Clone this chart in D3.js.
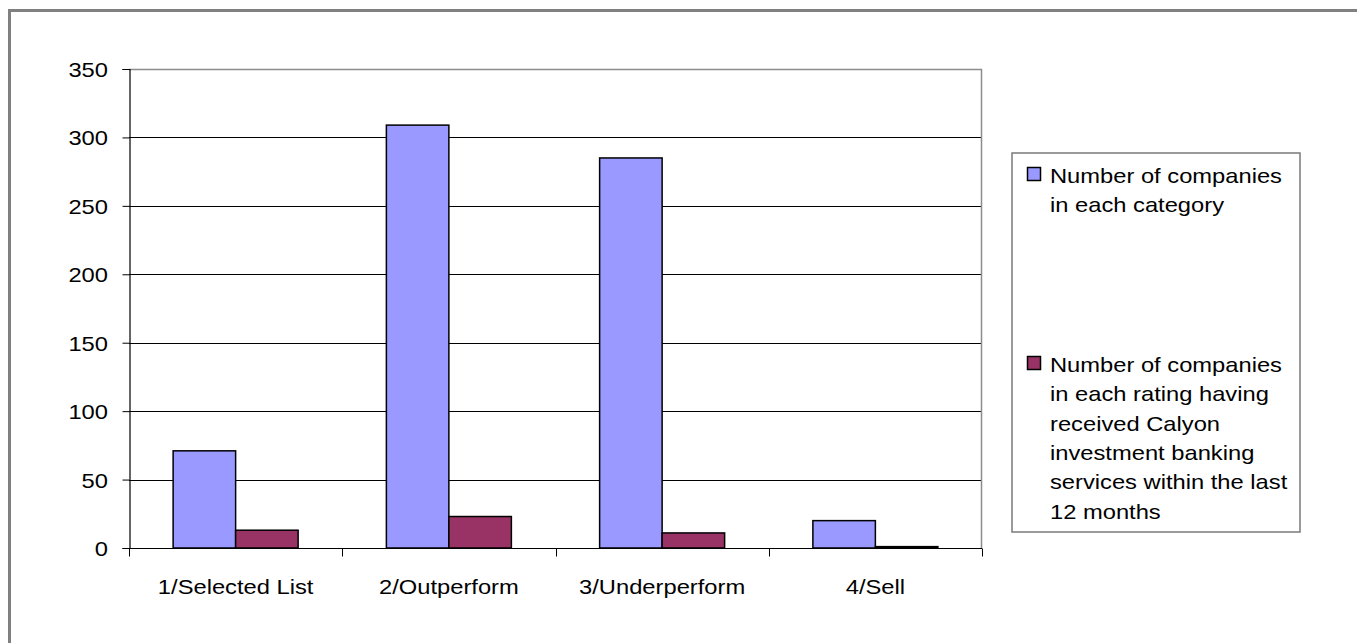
<!DOCTYPE html>
<html>
<head>
<meta charset="utf-8">
<script src="https://cdn.jsdelivr.net/npm/d3@7"></script>
<style>
  html, body { margin: 0; padding: 0; background: #fff; }
  svg { display: block; }
  text { font-family: "Liberation Sans", Arial, Helvetica, sans-serif; fill: #000; }
</style>
</head>
<body>
<svg id="chart" width="1357" height="643"></svg>
<script>
const categories = ["1/Selected List", "2/Outperform", "3/Underperform", "4/Sell"];
const seriesNames = ["Number of companies in each category",
  "Number of companies in each rating having received Calyon investment banking services within the last 12 months"];
const seriesCount = [71, 309, 285, 20];
const seriesBanking = [13, 23, 11, 1];
const yTicks = [0, 50, 100, 150, 200, 250, 300, 350];
const legendLines = [
  ["Number of companies", "in each category"],
  ["Number of companies", "in each rating having", "received Calyon", "investment banking", "services within the last", "12 months"]
];
const colors = ["#9999FF", "#993366"];

const svg = d3.select("#chart");
const SX = 1.13, FS = 21;

function stretchedText(parent, x, y, str, anchor) {
  const g = parent.append("g").attr("transform", `translate(${x},${y}) scale(${SX},1)`);
  g.append("text").attr("x", 0).attr("y", 0)
    .attr("text-anchor", anchor || "start")
    .style("font-size", FS + "px").text(str);
  return g;
}

// outer frame (only top/left visible in the reference)
svg.append("rect").attr("x", 9.5).attr("y", 10.5).attr("width", 1400).attr("height", 700)
  .attr("fill", "none").attr("stroke", "#808080").attr("stroke-width", 3);

const plot = { left: 129, right: 982, top: 69, bottom: 548 };
const y = d3.scaleLinear().domain([0, 350]).range([plot.bottom, plot.top]);
const x0 = d3.scaleBand().domain(categories).range([plot.left, plot.right]).padding(0);
const x1 = d3.scaleBand().domain([0, 1]).range([0, x0.bandwidth()]).paddingInner(0).paddingOuter(0.706);

// gridlines
svg.append("g").selectAll("line").data(yTicks.filter(d => d > 0 && d < 350)).join("line")
  .attr("x1", plot.left).attr("x2", plot.right)
  .attr("y1", d => Math.round(y(d)) + 0.5).attr("y2", d => Math.round(y(d)) + 0.5)
  .attr("stroke", "#000").attr("stroke-width", 1);

// plot border top/right gray
svg.append("path")
  .attr("d", `M${plot.left},${plot.top + 0.5}H${plot.right - 0.5}V${plot.bottom}`)
  .attr("fill", "none").attr("stroke", "#8c8c8c").attr("stroke-width", 1.5);

// bars
const data = categories.map((c, i) => ({ c, vals: [seriesCount[i], seriesBanking[i]] }));
const groups = svg.append("g").selectAll("g").data(data).join("g")
  .attr("transform", d => `translate(${x0(d.c)},0)`);
groups.selectAll("rect").data(d => d.vals.map((v, k) => ({ v, k }))).join("rect")
  .attr("x", d => x1(d.k))
  .attr("y", d => y(d.v))
  .attr("width", x1.bandwidth())
  .attr("height", d => y(0) - y(d.v))
  .attr("fill", d => colors[d.k])
  .attr("stroke", "#000").attr("stroke-width", 1.5);

// y axis
const yAxis = d3.axisLeft(y).tickValues(yTicks).tickSize(7).tickFormat("");
const yg = svg.append("g").attr("transform", `translate(${plot.left + 0.5},0)`).call(yAxis);
yg.select(".domain").attr("stroke", "#000").attr("stroke-width", 1.2);
yg.selectAll(".tick line").attr("stroke", "#000");
yTicks.forEach(t => stretchedText(svg, 108, y(t) + 8, String(t), "end"));

// x axis
const xg = svg.append("g").attr("transform", `translate(0,${plot.bottom + 0.5})`);
xg.append("line").attr("x1", plot.left).attr("x2", plot.right).attr("stroke", "#000").attr("stroke-width", 1.2);
const bounds = categories.map(c => x0(c)).concat([plot.right]);
xg.selectAll("line.tk").data(bounds).join("line").attr("class", "tk")
  .attr("x1", d => Math.round(d) + 0.5).attr("x2", d => Math.round(d) + 0.5)
  .attr("y1", 0).attr("y2", 8).attr("stroke", "#000");
categories.forEach(c => stretchedText(svg, x0(c) + x0.bandwidth() / 2, 594, c, "middle"));

// legend
const lg = svg.append("g");
lg.append("rect").attr("x", 1012).attr("y", 153).attr("width", 288).attr("height", 379)
  .attr("fill", "#fff").attr("stroke", "#7a7a7a").attr("stroke-width", 1.5);
const entryTop = [183, 372];
const lineH = 29.3;
legendLines.forEach((lines, k) => {
  lg.append("rect").attr("x", 1027.5).attr("y", entryTop[k] - 15.5).attr("width", 13).attr("height", 13)
    .attr("fill", colors[k]).attr("stroke", "#000").attr("stroke-width", 1.5);
  lines.forEach((ln, j) => stretchedText(lg, 1050, entryTop[k] + j * lineH, ln, "start"));
});
</script>
</body>
</html>
